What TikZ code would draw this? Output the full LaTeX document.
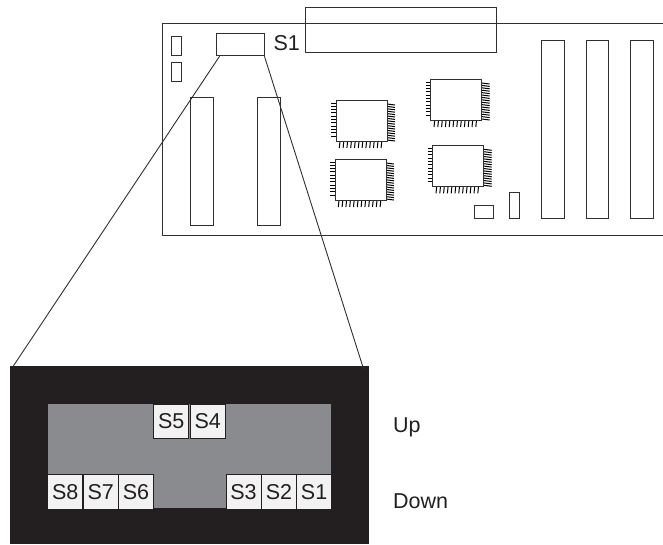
\documentclass[tikz,border=0pt]{standalone}
\usepackage{fontspec}
\setmainfont{Liberation Sans}
\usetikzlibrary{calc}
\definecolor{ink}{HTML}{303030}
\definecolor{darkbox}{HTML}{231F20}
\definecolor{panel}{HTML}{8A8B8E}
\definecolor{keyfill}{HTML}{F2F2F2}
\tikzset{
  outline/.style={draw=ink, line width=0.9pt},
  pin/.style={draw=black, line width=1pt},
  swbox/.style={draw=darkbox, line width=1pt, fill=keyfill, inner sep=0pt,
     minimum width=35pt, minimum height=34.5pt, text=darkbox,
     font=\fontsize{21.5}{21.5}\selectfont},
  lbl/.style={inner sep=0pt, anchor=base west, text=darkbox,
     font=\fontsize{21.5}{21.5}\selectfont},
  chip/.pic={
    \foreach \i in {0,...,10} \draw[pin] (-5,3+\i*3.3) -- (0,3+\i*3.3);
    \foreach \i in {0,...,11} \draw[pin] (4+\i*3.8,41) -- (3.3+\i*3.8,48);
    \foreach \i in {0,...,15} \draw[pin] (51,4+\i*2.4) -- (59,5+\i*2.4);
    \draw[outline, fill=white] (0,0) rectangle (51,41);
  }
}
\begin{document}
\begin{tikzpicture}[x=1pt,y=-1pt]
\useasboundingbox (0,0) rectangle (663,544);
% board
\draw[outline] (664,23.3) -- (162,23.3) -- (162,235) -- (664,235);
% top connector
\draw[outline] (305.7,7.7) rectangle (496.7,52.3);
% small parts left
\draw[outline] (171.3,36.7) rectangle (181.3,55);
\draw[outline] (171.3,62) rectangle (181.3,81);
% tall sockets
\draw[outline] (190.7,97.3) rectangle (213.3,225);
\draw[outline] (257.3,97.3) rectangle (280.7,225);
% right slots
\draw[outline] (541.7,40) rectangle (564,218.3);
\draw[outline] (586,40) rectangle (608.3,218.3);
\draw[outline] (630.7,40) rectangle (653.3,218.3);
% small parts bottom
\draw[outline] (474.3,205.7) rectangle (493.3,218.3);
\draw[outline] (509.3,192.7) rectangle (519.3,218.3);
% chips
\pic at (336,100) {chip};
\pic at (430.7,79) {chip};
\pic at (335,159) {chip};
\pic at (432.7,145.3) {chip};
% switch on board
\node[outline, fill=white, inner sep=0pt, minimum width=48pt, minimum height=22pt] (sw) at (240,44.3) {};
\node[lbl] (swlbl) at (273.3,50) {S1};
% enlarged switch block
\node[fill=darkbox, inner sep=0pt, minimum width=359.3pt, minimum height=178pt] (dip) at (189.65,455) {};
\node[fill=panel, inner sep=0pt, minimum width=283.3pt, minimum height=104pt] (pan) at (189.35,456.3) {};
\node[swbox] (s5) at (171.3,421.5) {S5};
\node[swbox] (s4) at (207.8,421.5) {S4};
\node[swbox] (s8) at (65.2,491.8) {S8};
\node[swbox] (s7) at (100.7,491.8) {S7};
\node[swbox] (s6) at (136.0,491.8) {S6};
\node[swbox] (s3) at (243.5,491.8) {S3};
\node[swbox] (s2) at (278.9,491.8) {S2};
\node[swbox] (s1) at (314.1,491.8) {S1};
\node[lbl] (up) at (393,432) {Up};
\node[lbl] (down) at (393,508) {Down};
% zoom lines
\draw[draw=ink, line width=0.9pt] ($(sw.south west)+(4,0.5)$) -- ($(dip.north west)+(3,1)$);
\draw[draw=ink, line width=0.9pt] ($(sw.south east)+(0,0.5)$) -- ($(dip.north east)+(-6,3)$);
\end{tikzpicture}
\end{document}
